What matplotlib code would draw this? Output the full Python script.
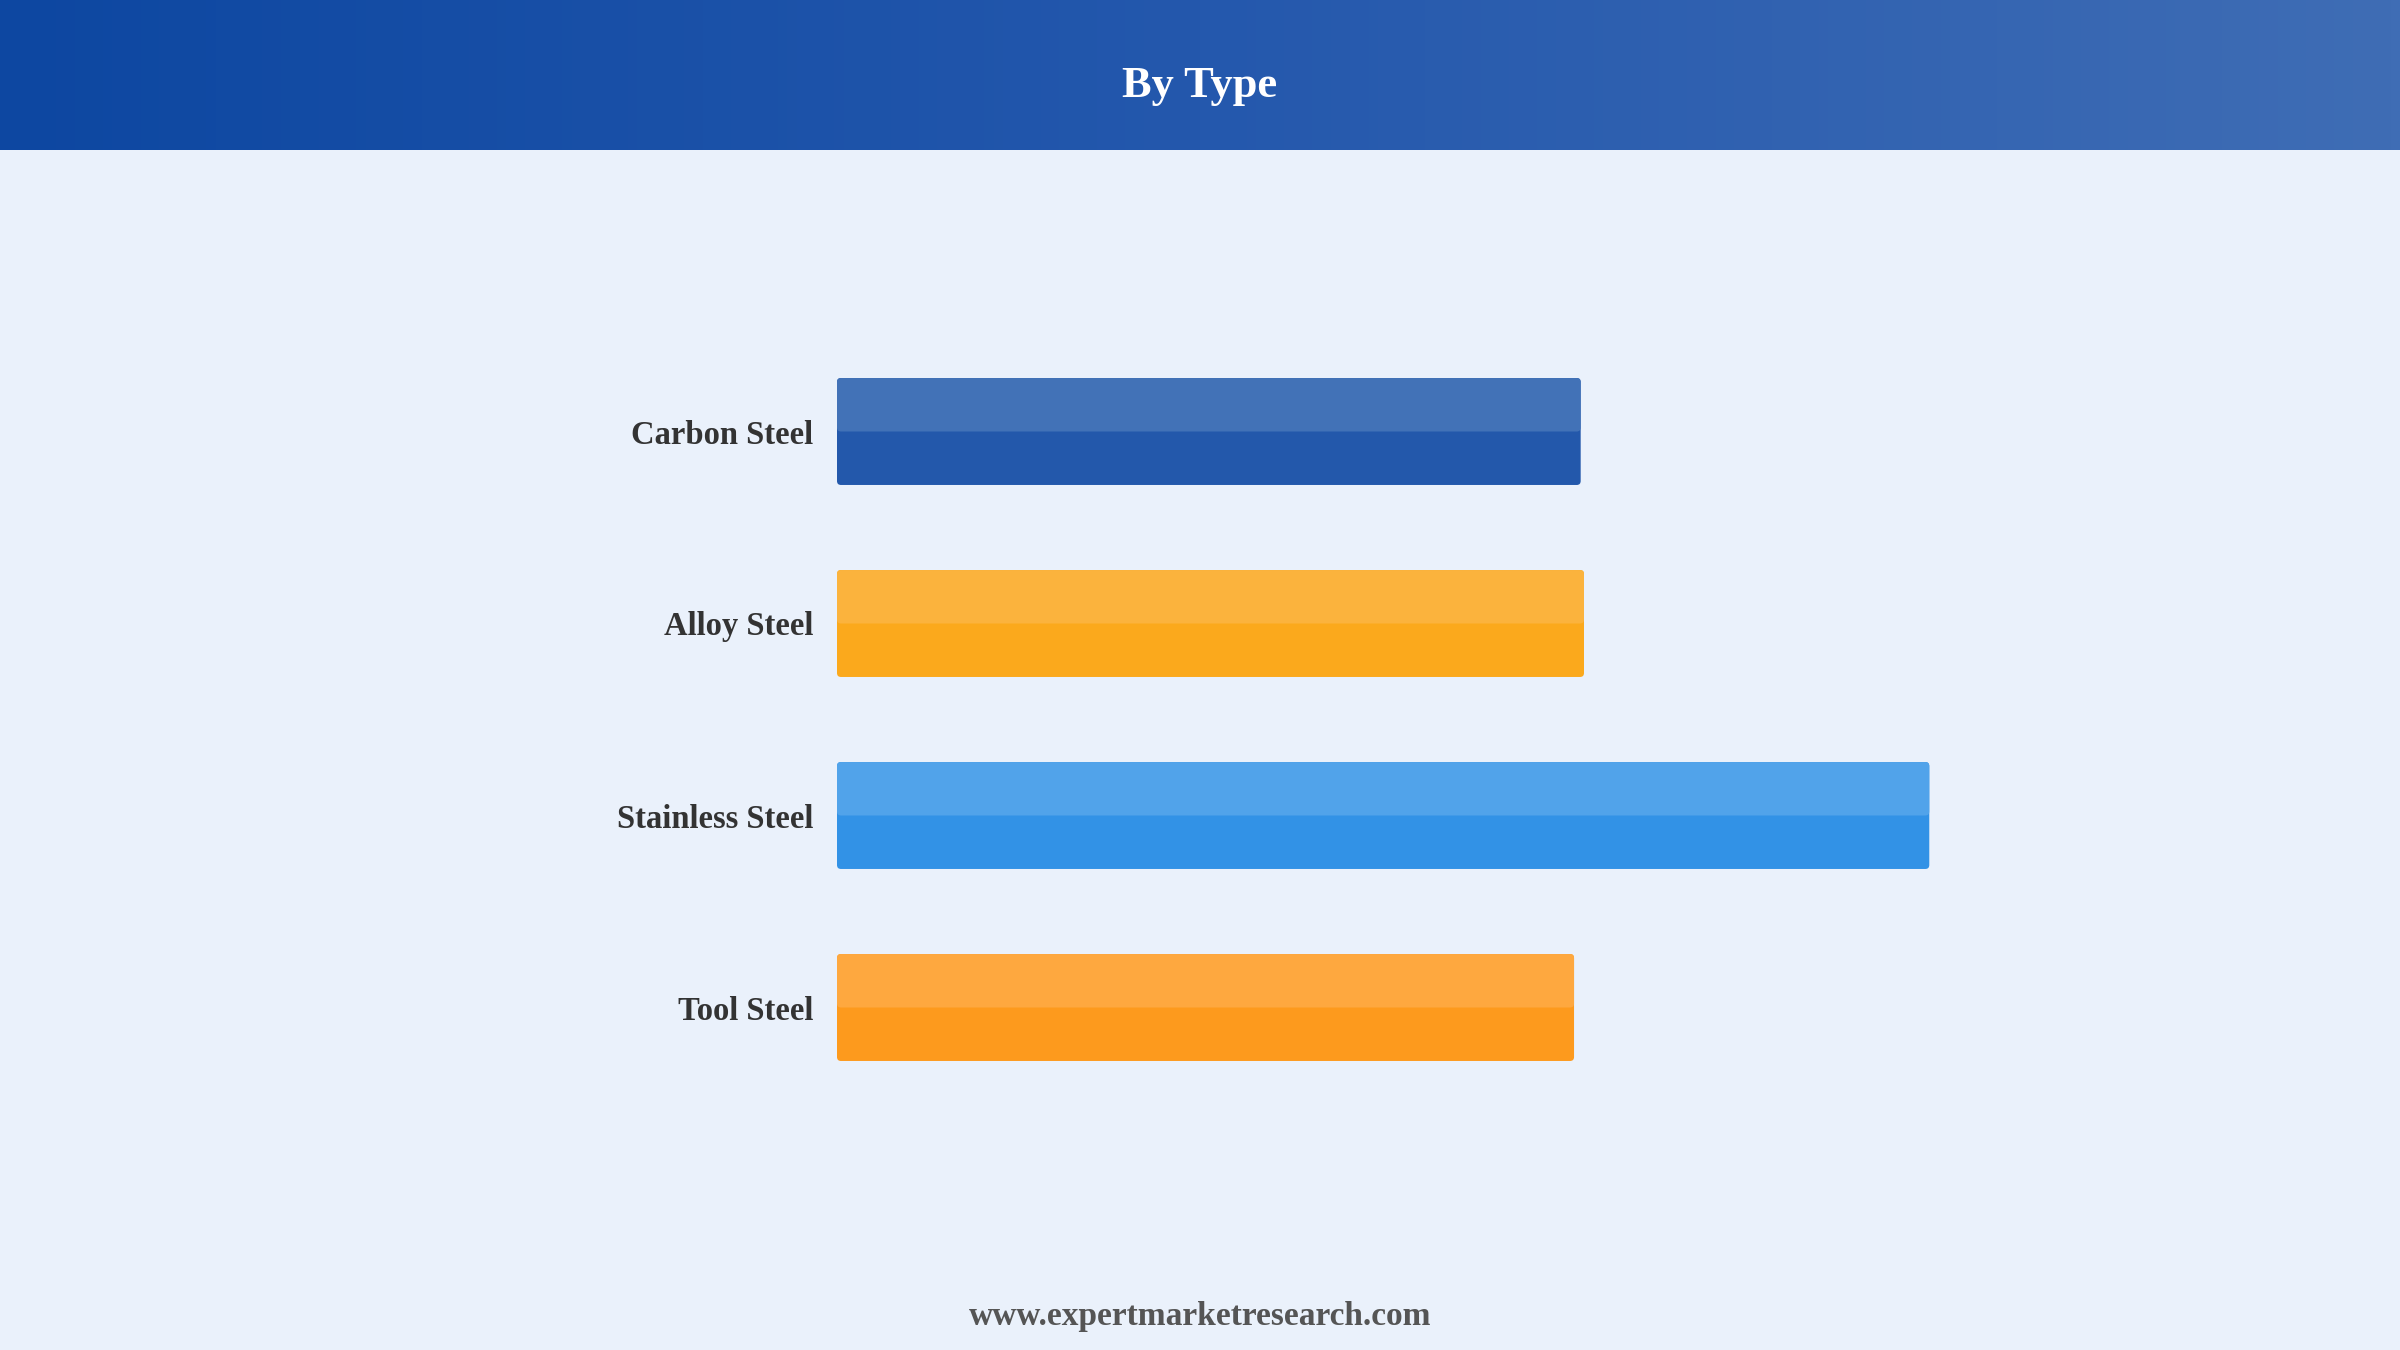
import numpy as np
import matplotlib.pyplot as plt
from matplotlib.patches import FancyBboxPatch
from matplotlib.colors import LinearSegmentedColormap

# данные: доля рынка по типу стали (оценка по длине столбцов)
types = ['Carbon Steel', 'Alloy Steel', 'Stainless Steel', 'Tool Steel']
share = [22.4, 22.5, 32.9, 22.2]
color_top = ['#4272B7', '#FBB33D', '#51A3EA', '#FEA83F']
color_bottom = ['#2358AB', '#FBA91C', '#3292E6', '#FD9A1D']

plt.rcParams['font.family'] = ['Liberation Serif', 'DejaVu Serif']

fig = plt.figure(figsize=(24, 13.5), dpi=100)
fig.patch.set_facecolor('#EAF1FB')

# шапка с градиентом
head = fig.add_axes([0, 1 - 150 / 1350, 1, 150 / 1350])
grad = np.linspace(0, 1, 256).reshape(1, -1)
cmap = LinearSegmentedColormap.from_list('hdr', ['#0D47A1', '#2458AD', '#3F6DB5'])
head.imshow(grad, aspect='auto', cmap=cmap, extent=[0, 1, 0, 1])
head.set_axis_off()
fig.text(0.5, 1 - 97 / 1350, 'By Type', ha='center', va='baseline',
         fontsize=32, fontweight='bold', color='white')

# основной график
ax = fig.add_axes([837 / 2400, 1 - 1199.5 / 1350, 1328 / 2400, 960 / 1350])
ax.set_facecolor('#EAF1FB')
y = np.arange(len(types))
h = 0.557

bars_bottom = ax.barh(y, share, height=h, color=color_bottom)
bars_top = ax.barh(y - h / 4, share, height=h / 2, color=color_top)

ax.set_xlim(0, 40)
ax.set_ylim(4.0, -1.0)

# скругление углов
aspect = (1 / 192) / (1 / 33.2)
for bars in (bars_bottom, bars_top):
    for b in bars:
        x0, y0 = b.get_x(), b.get_y()
        w, hh = b.get_width(), b.get_height()
        p = FancyBboxPatch((x0, y0), w, hh,
                           boxstyle='round,pad=0,rounding_size=0.12',
                           mutation_aspect=aspect,
                           facecolor=b.get_facecolor(), edgecolor='none')
        b.remove()
        ax.add_patch(p)

ax.set_yticks(y)
ax.set_yticklabels(types, fontsize=23.5, fontweight='bold', color='#333333')
ax.tick_params(axis='y', length=0, pad=17)
ax.set_xticks([])
for s in ax.spines.values():
    s.set_visible(False)

fig.text(0.5, 1 - 1325 / 1350, 'www.expertmarketresearch.com', ha='center', va='baseline',
         fontsize=24, fontweight='bold', color='#555555')

plt.savefig('out.png', dpi=100, facecolor=fig.get_facecolor())
